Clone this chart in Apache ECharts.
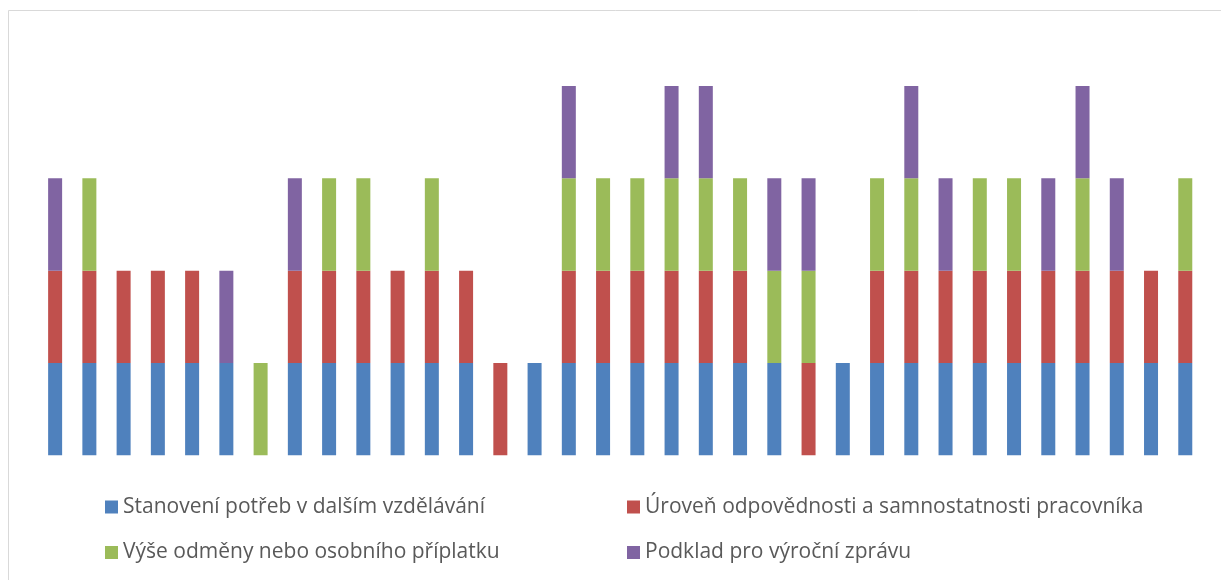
<!DOCTYPE html>
<html>
<head>
<meta charset="utf-8">
<script src="https://cdn.jsdelivr.net/npm/echarts@6/dist/echarts.min.js"></script>
<style>
  html, body { margin: 0; padding: 0; background: #fff; }
  #chart { width: 1221px; height: 580px; }
</style>
</head>
<body>
<div id="chart"></div>
<script>
// Respondents (one column each); 1 = the purpose was marked, 0 = not marked
const categories = Array.from({ length: 34 }, (_, i) => String(i + 1));

const seriesNames = [
  'Stanovení potřeb v dalším vzdělávání',
  'Úroveň odpovědnosti a samnostatnosti pracovníka',
  'Výše odměny nebo osobního příplatku',
  'Podklad pro výroční zprávu'
];

const potreby     = [1,1,1,1,1,1,0,1,1,1,1,1,1,0,1,1,1,1,1,1,1,1,0,1,1,1,1,1,1,1,1,1,1,1];
const odpovednost = [1,1,1,1,1,0,0,1,1,1,1,1,1,1,0,1,1,1,1,1,1,0,1,0,1,1,1,1,1,1,1,1,1,1];
const odmena      = [0,1,0,0,0,0,1,0,1,1,0,1,0,0,0,1,1,1,1,1,1,1,1,0,1,1,0,1,1,0,1,0,0,1];
const vyrocni     = [1,0,0,0,0,1,0,1,0,0,0,0,0,0,0,1,0,0,1,1,0,1,1,0,0,1,1,0,0,1,1,1,0,0];

const colors = ['#4F81BD', '#C0504D', '#9BBB59', '#8064A2'];
const values = [potreby, odpovednost, odmena, vyrocni];

const chart = echarts.init(document.getElementById('chart'), null, { renderer: 'canvas' });

const legendPos = [
  { left: 105, top: 496.5 },
  { left: 627, top: 496.5 },
  { left: 105, top: 542 },
  { left: 627, top: 542 }
];

chart.setOption({
  animation: false,
  backgroundColor: '#ffffff',
  graphic: [{
    type: 'rect',
    shape: { x: 8.5, y: 10.5, width: 1240, height: 620 },
    style: { fill: 'none', stroke: '#D9D9D9', lineWidth: 1 },
    silent: true,
    z: -1
  }],
  grid: { left: 38, right: 18.6, top: 86, bottom: 124.7 },
  xAxis: {
    type: 'category',
    data: categories,
    show: false
  },
  yAxis: {
    type: 'value',
    min: 0,
    max: 4,
    show: false
  },
  legend: seriesNames.map((name, i) => ({
    data: [name],
    left: legendPos[i].left,
    top: legendPos[i].top,
    icon: 'rect',
    itemWidth: 13,
    itemHeight: 13,
    padding: 0,
    selectedMode: false,
    textStyle: { fontFamily: 'Open Sans', fontSize: 21, color: '#595959' }
  })),
  series: seriesNames.map((name, i) => ({
    name: name,
    type: 'bar',
    stack: 'all',
    barWidth: 14,
    data: values[i],
    itemStyle: { color: colors[i] }
  }))
});
</script>
</body>
</html>
